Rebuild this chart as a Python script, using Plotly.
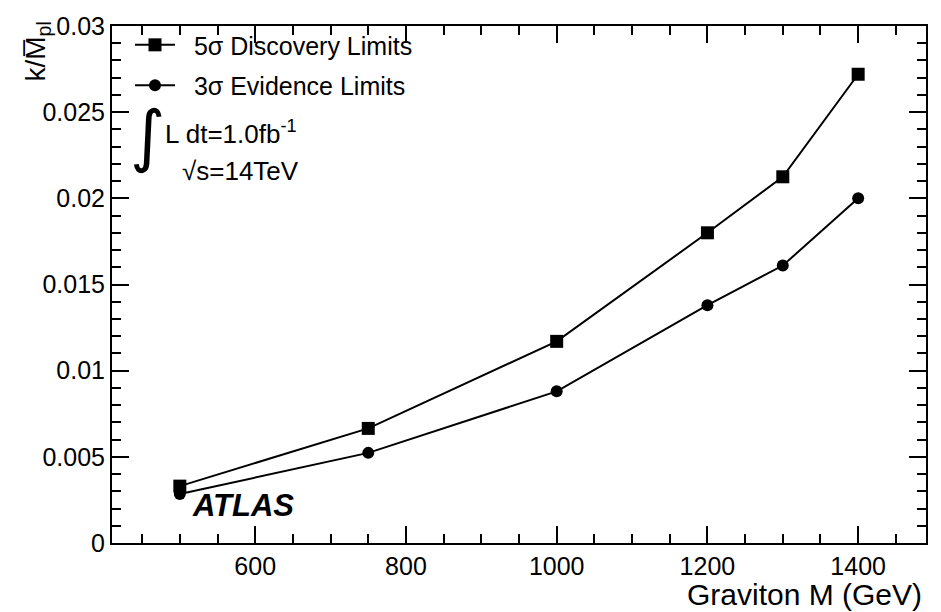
import plotly.graph_objects as go

mass = [500, 750, 1000, 1200, 1300, 1400]
disc5 = [0.0033, 0.00665, 0.0117, 0.0180, 0.02125, 0.0272]
evid3 = [0.00284, 0.00523, 0.0088, 0.0138, 0.0161, 0.0200]
names = ["\u00a0\u00a05σ Discovery Limits", "\u00a0\u00a03σ Evidence Limits"]
xticks = [600, 800, 1000, 1200, 1400]
yticks = [0, 0.005, 0.01, 0.015, 0.02, 0.025, 0.03]
ytext = ["0", "0.005", "0.01", "0.015", "0.02", "0.025", "0.03"]

FONT = "Liberation Sans, Arial, Helvetica, sans-serif"
L, R, T, B = 112, 15, 16, 69
PW, PH = 941 - L - R, 612 - T - B


def px(xp):
    return (xp - L) / PW


def py(yp):
    return (612 - B - yp) / PH


fig = go.Figure()
fig.add_trace(go.Scatter(x=mass, y=disc5, mode="lines+markers", name=names[0],
                         legendgroup="a",
                         line=dict(color="black", width=2),
                         marker=dict(symbol="square", size=13, color="black")))
fig.add_trace(go.Scatter(x=mass, y=evid3, mode="lines+markers", name=names[1],
                         legendgroup="b",
                         line=dict(color="black", width=2),
                         marker=dict(symbol="circle", size=12, color="black")))

axcommon = dict(showline=True, linecolor="black", linewidth=2, mirror="ticks",
                ticks="inside", tickcolor="black", tickwidth=1.5, ticklen=17,
                showgrid=False, zeroline=False,
                tickfont=dict(family=FONT, size=25, color="black"))

fig.update_xaxes(range=[410, 1490], tickvals=xticks, **axcommon,
                 minor=dict(ticks="inside", dtick=50, tick0=0, ticklen=9,
                            tickcolor="black", tickwidth=1.5, showgrid=False))
fig.update_yaxes(range=[0, 0.03], tickvals=yticks, ticktext=ytext, **axcommon,
                 minor=dict(ticks="inside", dtick=0.001, tick0=0, ticklen=9,
                            tickcolor="black", tickwidth=1.5, showgrid=False))

fig.update_layout(
    width=941, height=612,
    margin=dict(l=L, r=R, t=T, b=B),
    paper_bgcolor="white", plot_bgcolor="white",
    font=dict(family=FONT, color="black"),
    showlegend=True,
    legend=dict(x=px(130), y=py(12), xanchor="left", yanchor="top",
                bgcolor="rgba(0,0,0,0)", font=dict(family=FONT, size=25),
                traceorder="grouped", tracegroupgap=5, itemwidth=40),
)

ann = [
    dict(text="k/M\u0305<sub>pl</sub>", x=-(L - 18) / PW, y=py(10), xref="paper", yref="paper",
         xanchor="left", yanchor="top", textangle=-90, showarrow=False,
         font=dict(family=FONT, size=28)),
    dict(text="Graviton M (GeV)", x=px(924), y=py(595), xref="paper", yref="paper",
         xanchor="right", yanchor="middle", showarrow=False,
         font=dict(family=FONT, size=30)),
    dict(text="∫", x=px(128), y=py(128), xref="paper", yref="paper",
         xanchor="left", yanchor="middle", showarrow=False,
         font=dict(family="DejaVu Sans", size=68)),
    dict(text="L dt=1.0fb<sup>-1</sup>", x=px(163), y=py(125), xref="paper", yref="paper",
         xanchor="left", yanchor="middle", showarrow=False,
         font=dict(family=FONT, size=26)),
    dict(text="√s=14TeV", x=px(180), y=py(164), xref="paper", yref="paper",
         xanchor="left", yanchor="middle", showarrow=False,
         font=dict(family=FONT, size=26)),
    dict(text="<b><i>ATLAS</i></b>", x=px(190), y=py(505), xref="paper", yref="paper",
         xanchor="left", yanchor="middle", showarrow=False,
         font=dict(family=FONT, size=31)),
]
fig.update_layout(annotations=ann)

fig.write_html("out.html")
